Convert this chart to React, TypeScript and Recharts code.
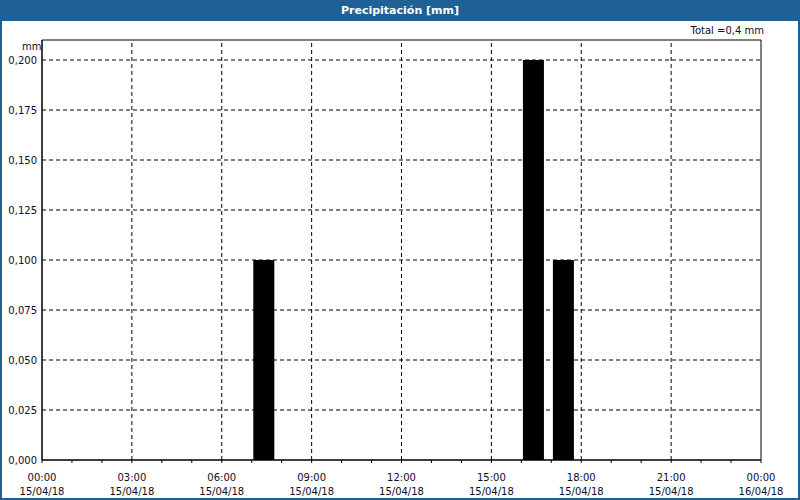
import React from 'react';
import { BarChart, Bar, XAxis, YAxis, ReferenceLine, ReferenceArea } from 'recharts';

// Hours after 00:00 15/04/18 (bar centres) and precipitation values (mm)
const barHours = [7.42, 16.42, 17.42];
const rainValues = [0.1, 0.2, 0.1];
const yTicks = [0, 0.025, 0.05, 0.075, 0.1, 0.125, 0.15, 0.175, 0.2];
const hourTicks = Array.from({ length: 25 }, (_, i) => i);
const gridHours = [3, 6, 9, 12, 15, 18, 21];
const timeLabels: Record<number, [string, string]> = {
  0: ['00:00', '15/04/18'],
  3: ['03:00', '15/04/18'],
  6: ['06:00', '15/04/18'],
  9: ['09:00', '15/04/18'],
  12: ['12:00', '15/04/18'],
  15: ['15:00', '15/04/18'],
  18: ['18:00', '15/04/18'],
  21: ['21:00', '15/04/18'],
  24: ['00:00', '16/04/18'],
};
const title = 'Precipitación [mm]';
const totalText = 'Total =0,4 mm';
const unitText = 'mm';

const data = barHours.map((h, i) => ({ h, v: rainValues[i] }));

const BLUE = '#1f6197';
const FONT = '"DejaVu Sans", Tahoma, sans-serif';
const TXT = '#0d0d26';

const XTick = (props: any) => {
  const { x, y, payload } = props;
  const lbl = timeLabels[payload.value];
  if (!lbl) return null;
  return (
    <g>
      <text x={x} y={y + 16} textAnchor="middle" fontSize={10} fontFamily={FONT} fill={TXT}>
        {lbl[0]}
      </text>
      <text x={x} y={y + 30} textAnchor="middle" fontSize={10} fontFamily={FONT} fill={TXT}>
        {lbl[1]}
      </text>
    </g>
  );
};

export default function App() {
  return (
    <div
      style={{
        position: 'relative',
        width: 800,
        height: 500,
        background: '#fff',
        boxSizing: 'border-box',
        borderLeft: `2px solid ${BLUE}`,
        borderRight: `2px solid ${BLUE}`,
        borderBottom: `2px solid ${BLUE}`,
        overflow: 'hidden',
        fontFamily: FONT,
      }}
    >
      <style>{'body{margin:0}'}</style>
      <div
        style={{
          position: 'absolute',
          left: -2,
          top: 0,
          width: 800,
          height: 21,
          background: BLUE,
          color: '#fff',
          fontWeight: 'bold',
          fontSize: 11,
          textAlign: 'center',
          lineHeight: '21px',
          fontFamily: FONT,
        }}
      >
        {title}
      </div>
      <div
        style={{
          position: 'absolute',
          right: 34,
          top: 25,
          fontSize: 10,
          color: TXT,
          fontFamily: FONT,
        }}
      >
        {totalText}
      </div>
      <div
        style={{
          position: 'absolute',
          left: 20,
          top: 41,
          fontSize: 10,
          color: TXT,
          fontFamily: FONT,
        }}
      >
        {unitText}
      </div>
      <div style={{ position: 'absolute', left: -1, top: 0 }}>
        <BarChart width={800} height={500} data={data} margin={{ top: 40, right: 40, bottom: 0, left: 0 }}>
          {yTicks
            .filter((t) => t > 0)
            .map((t) => (
              <ReferenceLine key={'y' + t} y={t} stroke="#000" strokeDasharray="4 3" />
            ))}
          {gridHours.map((h) => (
            <ReferenceLine key={'x' + h} x={h} stroke="#000" strokeDasharray="4 3" />
          ))}
          <XAxis
            dataKey="h"
            type="number"
            domain={[0, 24]}
            ticks={hourTicks}
            interval={0}
            height={40}
            axisLine={{ stroke: '#000' }}
            tickLine={{ stroke: '#000' }}
            tickSize={3}
            tick={<XTick />}
            allowDataOverflow
          />
          <YAxis
            type="number"
            domain={[0, 0.21]}
            ticks={yTicks}
            width={41}
            axisLine={{ stroke: '#000' }}
            tickLine={false}
            tickSize={0}
            tickMargin={5}
            interval={0}
            tickFormatter={(v: number) => v.toFixed(3).replace('.', ',')}
            tick={{ fontSize: 10, fontFamily: FONT, fill: TXT }}
            allowDataOverflow
          />
          <ReferenceArea x1={0} x2={24} y1={0} y2={0.21} fill="none" stroke="#000" strokeOpacity={1} fillOpacity={0} />
          <Bar dataKey="v" fill="#000" barSize={21} isAnimationActive={false} />
        </BarChart>
      </div>
    </div>
  );
}
